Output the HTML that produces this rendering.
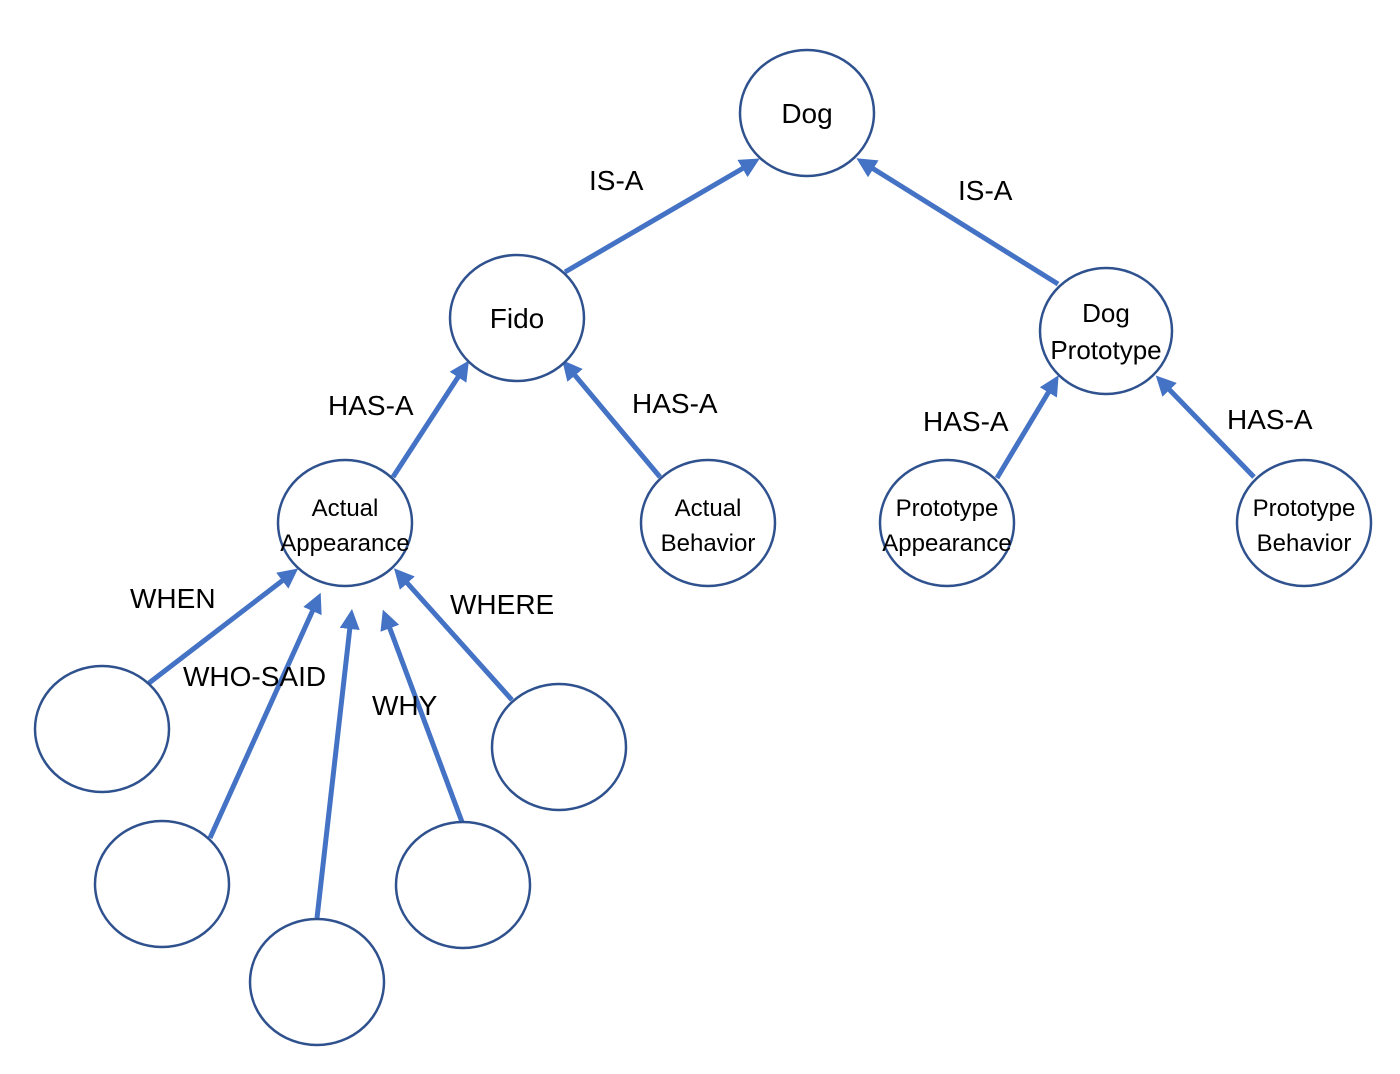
<!DOCTYPE html>
<html><head><meta charset="utf-8"><style>body{margin:0;background:#fff}svg{display:block}</style></head><body>
<svg width="1400" height="1074" viewBox="0 0 1400 1074" xmlns="http://www.w3.org/2000/svg" font-family="Liberation Sans, sans-serif">
<defs><marker id="a" markerWidth="4" markerHeight="4" refX="2.2" refY="2" orient="auto" markerUnits="strokeWidth"><path d="M0,0 L4,2 L0,4 Z" fill="#4472C4"/></marker></defs>
<g stroke="#4472C4" stroke-width="5" marker-end="url(#a)">
<line x1="565" y1="272" x2="752" y2="163"/>
<line x1="1058" y1="284" x2="864" y2="163"/>
<line x1="393" y1="477" x2="464" y2="368"/>
<line x1="660" y1="477" x2="568" y2="367"/>
<line x1="997" y1="478" x2="1054" y2="383"/>
<line x1="1254" y1="477" x2="1162" y2="382"/>
<line x1="149" y1="683" x2="291" y2="574"/>
<line x1="210" y1="838" x2="317" y2="601"/>
<line x1="317" y1="918" x2="351" y2="618"/>
<line x1="462" y1="822" x2="386" y2="618"/>
<line x1="512" y1="700" x2="400" y2="575"/>
</g>
<g fill="#fff" stroke="#2F528F" stroke-width="2.5">
<ellipse cx="807" cy="113" rx="67" ry="63"/>
<ellipse cx="517" cy="318" rx="67" ry="63"/>
<ellipse cx="1106" cy="331" rx="66" ry="63"/>
<ellipse cx="345" cy="523" rx="67" ry="63"/>
<ellipse cx="708" cy="523" rx="67" ry="63"/>
<ellipse cx="947" cy="523" rx="67" ry="63"/>
<ellipse cx="1304" cy="523" rx="67" ry="63"/>
<ellipse cx="102" cy="729" rx="67" ry="63"/>
<ellipse cx="162" cy="884" rx="67" ry="63"/>
<ellipse cx="317" cy="982" rx="67" ry="63"/>
<ellipse cx="463" cy="885" rx="67" ry="63"/>
<ellipse cx="559" cy="747" rx="67" ry="63"/>
</g>
<g fill="#000" text-anchor="middle" font-size="28">
<text x="807" y="123">Dog</text>
<text x="517" y="328">Fido</text>
<text x="1106" y="322" font-size="26">Dog</text>
<text x="1106" y="359" font-size="26">Prototype</text>
<g font-size="24">
<text x="345" y="516">Actual</text><text x="345" y="551">Appearance</text>
<text x="708" y="516">Actual</text><text x="708" y="551">Behavior</text>
<text x="947" y="516">Prototype</text><text x="947" y="551">Appearance</text>
<text x="1304" y="516">Prototype</text><text x="1304" y="551">Behavior</text>
</g>
</g>
<g fill="#000" font-size="28">
<text x="589" y="190">IS-A</text>
<text x="958" y="200">IS-A</text>
<text x="328" y="415">HAS-A</text>
<text x="632" y="413">HAS-A</text>
<text x="923" y="431">HAS-A</text>
<text x="1227" y="429">HAS-A</text>
<text x="130" y="608">WHEN</text>
<text x="183" y="686">WHO-SAID</text>
<text x="372" y="715">WHY</text>
<text x="450" y="614">WHERE</text>
</g>
</svg>
</body></html>
